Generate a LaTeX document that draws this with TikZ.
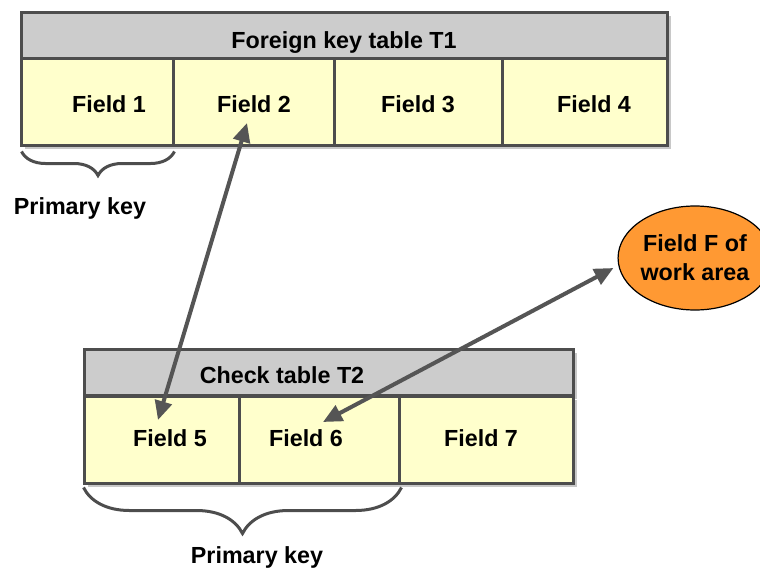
\documentclass[tikz,border=0pt]{standalone}
\usepackage{fontspec}
\setmainfont{Liberation Sans}
\usetikzlibrary{arrows.meta,shapes.geometric,decorations.pathreplacing,calc,shadows}
\definecolor{bordergray}{HTML}{4D4D4D}
\definecolor{hdrgray}{HTML}{CCCCCC}
\definecolor{shadowgray}{HTML}{C8C8C8}
\definecolor{cellyellow}{HTML}{FFFFCC}
\definecolor{arrowgray}{HTML}{555555}
\definecolor{orangefill}{HTML}{FF9933}
\begin{document}
\begin{tikzpicture}[x=1pt,y=-1pt,
  boxshadow/.style={drop shadow={shadow xshift=4pt,shadow yshift=-4pt,fill=shadowgray,opacity=1}},
  hdr/.style={draw=bordergray,line width=3pt,fill=hdrgray,minimum width=#1,minimum height=46pt,inner sep=0pt,boxshadow},
  cell/.style={draw=bordergray,line width=3pt,fill=cellyellow,minimum width=#1,minimum height=87pt,inner sep=0pt,boxshadow},
  txt/.style={font=\fontsize{23.3}{27}\selectfont\bfseries,inner sep=0pt,text height=16.5pt,text depth=0pt},
  dbl/.style={draw=arrowgray,line width=4pt,{Triangle[length=19pt,width=17pt]}-{Triangle[length=19pt,width=17pt]}},
  bracestyle/.style={draw=bordergray,line width=3pt,decorate,decoration={brace,mirror,amplitude=#1}},
]
\useasboundingbox (0,0) rectangle (760,570);
% Table T1
\node[hdr=646pt] (h1) at (344,35) {};
\node[cell=152pt] (c1) at (97,101.5) {};
\node[cell=161pt] (c2) at (253.5,101.5) {};
\node[cell=168pt] (c3) at (418,101.5) {};
\node[cell=165pt] (c4) at (584.5,101.5) {};
\node[txt] (t1) at (344,40) {Foreign key table T1};
\node[txt] (f1) at (109,104) {Field 1};
\node[txt] (f2) at (254,104) {Field 2};
\node[txt] (f3) at (418,104) {Field 3};
\node[txt] (f4) at (594,104) {Field 4};
% Table T2
\node[hdr=489pt] (h2) at (328.5,372) {};
\node[cell=155pt] (c5) at (161.5,439.5) {};
\node[cell=160pt] (c6) at (319,439.5) {};
\node[cell=174pt] (c7) at (486,439.5) {};
\node[txt] (t2) at (282,375) {Check table T2};
\node[txt] (f5) at (170,438) {Field 5};
\node[txt] (f6) at (306,438) {Field 6};
\node[txt] (f7) at (481,438) {Field 7};
% Braces
\draw[bracestyle=24pt] ($(c1.south west)+(2,5)$) -- ($(c1.south east)+(0,5)$);
\node[txt] (pk1) at (80,206) {Primary key};
\draw[bracestyle=46pt] ($(c5.south west)+(1,3)$) -- ($(c6.south east)+(1,3)$);
\node[txt] (pk2) at (257,555) {Primary key};
% Work area field
\node[ellipse,draw=black,line width=1.2pt,fill=orangefill,minimum width=144pt,minimum height=104pt,inner sep=0pt,
      font=\fontsize{23.3}{29}\selectfont\bfseries,align=center] (ell) at (695,258) {Field F of\\work area};
% Arrows
\draw[dbl] ($(f5)+(-12,-18)$) -- ($(f2)+(-7,19)$);
\draw[dbl] ($(f6)+(17,-16)$) -- ($(ell.west)+(-4,10)$);
\end{tikzpicture}
\end{document}
